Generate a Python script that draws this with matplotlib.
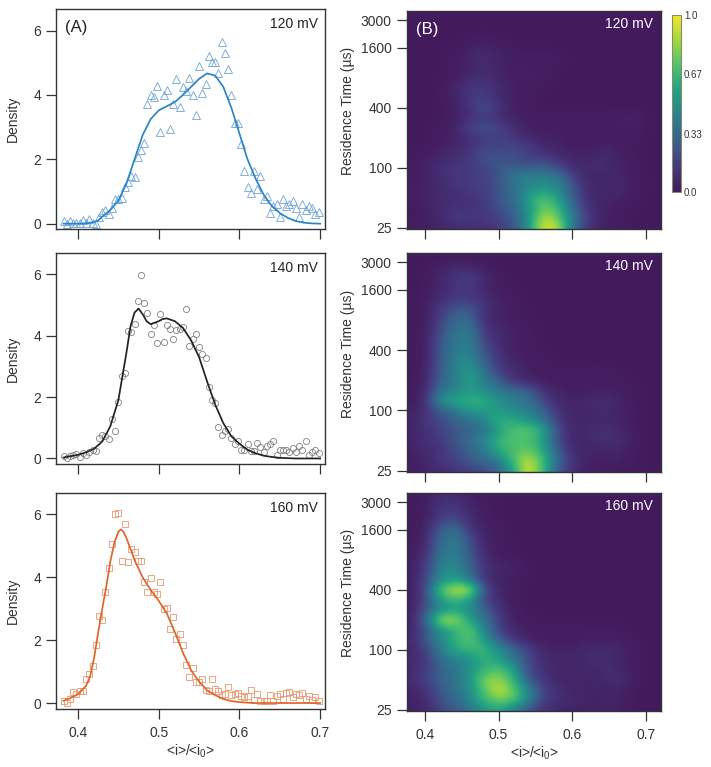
import matplotlib
matplotlib.use('Agg')
import matplotlib.pyplot as plt
import numpy as np
from matplotlib.colors import LinearSegmentedColormap

plt.rcParams['font.family'] = ['Liberation Sans', 'DejaVu Sans']
plt.rcParams['mathtext.default'] = 'regular'

W, H = 711, 767
DARK = '#333333'

# histogram bin centres, shared by the three left panels
bins = [0.382, 0.386, 0.390, 0.394, 0.398, 0.402, 0.406, 0.410, 0.414, 0.418,
        0.422, 0.426, 0.430, 0.434, 0.438, 0.442, 0.446, 0.450, 0.454, 0.458,
        0.462, 0.466, 0.470, 0.474, 0.478, 0.482, 0.486, 0.490, 0.494, 0.498,
        0.502, 0.506, 0.510, 0.514, 0.518, 0.522, 0.526, 0.530, 0.534, 0.538,
        0.542, 0.546, 0.550, 0.554, 0.558, 0.562, 0.566, 0.570, 0.574, 0.578,
        0.582, 0.586, 0.590, 0.594, 0.598, 0.602, 0.606, 0.610, 0.614, 0.618,
        0.622, 0.626, 0.630, 0.634, 0.638, 0.642, 0.646, 0.650, 0.654, 0.658,
        0.662, 0.666, 0.670, 0.674, 0.678, 0.682, 0.686, 0.690, 0.694, 0.698]

hist_120 = [0.07, 0.0, 0.08, 0.01, 0.03, 0.01, 0.13, 0.01, 0.14, 0.01,
            0.0, 0.22, 0.35, 0.42, 0.29, 0.48, 0.76, 0.77, 0.81, 1.15,
            1.30, 1.48, 1.44, 2.06, 2.29, 2.52, 3.73, 4.01, 3.93, 4.28,
            2.86, 4.01, 4.14, 2.93, 3.72, 4.48, 3.61, 4.26, 4.13, 4.54,
            4.01, 3.39, 4.89, 4.07, 4.35, 5.22, 5.02, 5.02, 4.69, 5.63,
            5.29, 4.81, 4.01, 3.12, 3.12, 2.49, 1.64, 1.15, 0.95, 1.63,
            1.08, 1.49, 0.76, 0.87, 0.34, 0.56, 0.62, 0.22, 0.76, 0.56,
            0.62, 0.69, 0.48, 0.22, 0.62, 0.42, 0.56, 0.48, 0.29, 0.35]
hist_140 = [0.08, 0.02, 0.07, 0.11, 0.14, 0.05, 0.18, 0.11, 0.20, 0.28,
            0.23, 0.68, 0.76, 0.73, 0.64, 1.29, 0.91, 1.83, 2.67, 2.79,
            4.16, 4.12, 4.39, 5.13, 5.97, 5.05, 4.74, 4.05, 4.36, 3.75,
            4.71, 3.78, 4.33, 4.20, 3.90, 4.17, 4.20, 4.29, 4.86, 3.66,
            3.90, 4.05, 3.63, 3.40, 3.28, 2.34, 1.92, 1.80, 1.03, 0.76,
            0.90, 0.96, 0.68, 0.48, 0.57, 0.29, 0.29, 0.46, 0.25, 0.25,
            0.52, 0.37, 0.22, 0.41, 0.46, 0.58, 0.11, 0.29, 0.29, 0.26,
            0.22, 0.35, 0.22, 0.41, 0.26, 0.57, 0.11, 0.22, 0.26, 0.18]
hist_160 = [0.07, 0.0, 0.12, 0.34, 0.29, 0.39, 0.39, 0.75, 0.92, 1.18,
            1.84, 2.76, 2.64, 3.52, 4.31, 5.07, 6.01, 6.03, 4.53, 5.69,
            4.47, 4.89, 4.79, 4.51, 4.51, 3.84, 3.52, 3.99, 3.52, 3.46,
            3.84, 2.98, 3.01, 2.35, 2.73, 2.05, 2.18, 1.86, 1.21, 0.83,
            1.10, 0.66, 0.66, 0.75, 0.42, 0.39, 0.77, 0.46, 0.39, 0.27,
            0.29, 0.51, 0.25, 0.29, 0.32, 0.22, 0.19, 0.22, 0.42, 0.11,
            0.29, 0.08, 0.08, 0.08, 0.25, 0.05, 0.22, 0.29, 0.14, 0.31,
            0.34, 0.19, 0.29, 0.25, 0.31, 0.14, 0.22, 0.11, 0.19, 0.08]

# fitted curves
fit_x_120 = [0.382, 0.39, 0.40, 0.41, 0.42, 0.425, 0.43, 0.44, 0.45, 0.46, 0.47, 0.48,
             0.49, 0.50, 0.51, 0.52, 0.53, 0.54, 0.55, 0.56, 0.57, 0.58, 0.59, 0.60,
             0.61, 0.62, 0.63, 0.64, 0.65, 0.66, 0.67, 0.68, 0.69, 0.70]
fit_y_120 = [0.0, 0.0, 0.0, 0.01, 0.05, 0.10, 0.22, 0.42, 0.72, 1.25, 2.0, 2.75,
             3.25, 3.52, 3.65, 3.78, 4.0, 4.25, 4.5, 4.67, 4.6, 4.25, 3.6, 2.8,
             2.0, 1.4, 0.9, 0.55, 0.33, 0.18, 0.08, 0.03, 0.01, 0.0]
fit_x_140 = [0.382, 0.39, 0.40, 0.41, 0.42, 0.43, 0.44, 0.45, 0.46, 0.465, 0.47, 0.475,
             0.48, 0.485, 0.49, 0.50, 0.505, 0.51, 0.52, 0.53, 0.54, 0.55, 0.56, 0.57,
             0.58, 0.59, 0.60, 0.61, 0.62, 0.63, 0.64, 0.65, 0.66, 0.67, 0.70]
fit_y_140 = [0.03, 0.07, 0.12, 0.20, 0.32, 0.55, 1.05, 1.9, 3.45, 4.3, 4.75, 4.88,
             4.7, 4.47, 4.37, 4.47, 4.54, 4.56, 4.47, 4.25, 3.85, 3.3, 2.5, 1.75,
             1.15, 0.72, 0.48, 0.28, 0.17, 0.09, 0.05, 0.02, 0.01, 0.0, 0.0]
fit_x_160 = [0.382, 0.39, 0.40, 0.41, 0.415, 0.42, 0.425, 0.43, 0.435, 0.44, 0.445, 0.45,
             0.453, 0.456, 0.46, 0.47, 0.48, 0.49, 0.50, 0.51, 0.52, 0.53, 0.54, 0.55,
             0.56, 0.57, 0.58, 0.59, 0.60, 0.61, 0.62, 0.70]
fit_y_160 = [0.07, 0.15, 0.28, 0.55, 0.85, 1.45, 2.25, 3.0, 3.7, 4.5, 5.1, 5.45,
             5.52, 5.46, 5.25, 4.55, 4.0, 3.6, 3.25, 2.85, 2.25, 1.6, 1.05, 0.68,
             0.4, 0.25, 0.13, 0.06, 0.03, 0.01, 0.0, 0.0]

# heat maps, percent of maximum; first row is 25 us, three rows per doubling
map_x = [0.38, 0.40, 0.42, 0.44, 0.46, 0.48, 0.50, 0.52, 0.54,
         0.56, 0.58, 0.60, 0.62, 0.64, 0.66, 0.68, 0.70, 0.72]
map_t = [25, 31.5, 39.7, 50, 63, 79.4, 100, 126, 159, 200, 252, 317,
         400, 504, 635, 800, 1008, 1270, 1600, 2016, 2540, 3200, 4032]
map_120 = [
    [2, 3, 5, 8, 9, 10, 14, 24, 52, 98, 92, 36, 10, 3, 2, 1, 1, 1],
    [1, 3, 6, 15, 15, 13, 18, 28, 48, 92, 76, 40, 16, 4, 2, 1, 1, 1],
    [1, 3, 9, 11, 11, 14, 24, 32, 52, 78, 68, 34, 11, 4, 2, 1, 1, 1],
    [3, 4, 8, 9, 11, 14, 25, 34, 56, 74, 54, 28, 7, 6, 5, 2, 1, 1],
    [3, 4, 7, 11, 15, 16, 25, 36, 46, 50, 48, 26, 7, 6, 7, 3, 1, 1],
    [1, 4, 9, 13, 15, 18, 24, 42, 46, 46, 42, 18, 5, 6, 6, 3, 1, 1],
    [2, 4, 10, 13, 14, 18, 26, 28, 28, 30, 22, 8, 8, 8, 5, 2, 1, 1],
    [1, 3, 6, 9, 14, 24, 24, 22, 16, 16, 10, 5, 5, 9, 5, 2, 1, 1],
    [1, 1, 3, 7, 11, 21, 19, 21, 16, 7, 4, 3, 2, 5, 3, 1, 1, 1],
    [1, 1, 2, 4, 9, 14, 16, 14, 7, 4, 4, 2, 2, 2, 2, 2, 1, 1],
    [1, 1, 2, 4, 20, 25, 21, 9, 3, 2, 2, 2, 2, 2, 3, 4, 1, 1],
    [1, 1, 1, 3, 9, 14, 9, 4, 2, 2, 2, 2, 2, 2, 3, 5, 1, 1],
    [1, 1, 1, 3, 11, 25, 11, 3, 2, 1, 1, 1, 1, 1, 1, 1, 1, 1],
    [1, 1, 1, 5, 14, 15, 9, 3, 2, 1, 1, 1, 1, 1, 1, 1, 1, 1],
    [1, 1, 1, 5, 13, 14, 8, 3, 2, 1, 1, 1, 1, 1, 1, 1, 1, 1],
    [1, 1, 1, 2, 7, 10, 5, 3, 4, 3, 1, 1, 1, 1, 1, 1, 1, 1],
    [1, 1, 1, 2, 5, 9, 4, 3, 3, 2, 1, 1, 1, 1, 1, 1, 1, 1],
    [1, 1, 1, 2, 5, 9, 4, 3, 3, 4, 2, 1, 1, 1, 1, 1, 1, 1],
    [1, 1, 1, 1, 3, 7, 3, 1, 1, 1, 1, 1, 1, 1, 1, 1, 1, 1],
    [1, 1, 1, 1, 1, 2, 1, 1, 1, 1, 1, 1, 1, 1, 1, 1, 1, 1],
    [1, 1, 1, 1, 1, 1, 1, 1, 1, 1, 1, 1, 1, 1, 1, 1, 1, 1],
    [1, 1, 1, 1, 1, 1, 1, 1, 1, 1, 1, 1, 1, 1, 1, 1, 1, 1],
    [1, 1, 1, 1, 1, 1, 1, 1, 1, 1, 1, 1, 1, 1, 1, 1, 1, 1],
]
map_140 = [
    [2, 5, 8, 11, 15, 20, 30, 58, 100, 66, 26, 8, 3, 2, 1, 1, 1, 1],
    [2, 6, 13, 18, 27, 34, 42, 70, 94, 68, 34, 12, 4, 3, 5, 2, 1, 1],
    [3, 7, 12, 20, 30, 40, 62, 70, 78, 60, 26, 7, 5, 5, 5, 1, 1, 1],
    [5, 10, 14, 25, 36, 46, 66, 72, 70, 56, 20, 6, 6, 10, 10, 3, 1, 1],
    [4, 10, 16, 25, 30, 38, 56, 72, 76, 60, 20, 5, 8, 10, 8, 2, 1, 1],
    [4, 14, 20, 30, 36, 44, 66, 60, 52, 40, 14, 5, 6, 7, 5, 1, 1, 1],
    [3, 10, 26, 40, 54, 56, 54, 48, 42, 30, 11, 5, 6, 8, 6, 2, 1, 1],
    [1, 8, 54, 60, 66, 62, 50, 42, 38, 18, 7, 5, 7, 10, 5, 1, 1, 1],
    [1, 5, 36, 44, 54, 48, 40, 34, 30, 11, 4, 2, 2, 3, 3, 2, 1, 1],
    [1, 4, 30, 42, 56, 44, 28, 10, 4, 2, 2, 2, 2, 3, 2, 1, 1, 1],
    [1, 3, 28, 42, 58, 36, 16, 9, 3, 2, 2, 2, 2, 3, 1, 1, 1, 1],
    [1, 2, 26, 44, 48, 30, 12, 5, 3, 2, 1, 1, 1, 1, 1, 1, 1, 1],
    [1, 2, 26, 42, 44, 26, 9, 4, 2, 1, 1, 1, 1, 1, 1, 1, 1, 1],
    [1, 2, 24, 40, 44, 18, 8, 3, 2, 1, 1, 1, 1, 1, 1, 1, 1, 1],
    [1, 2, 22, 38, 42, 14, 7, 5, 2, 1, 1, 1, 1, 1, 1, 1, 1, 1],
    [1, 2, 16, 34, 34, 9, 4, 2, 1, 1, 1, 1, 1, 1, 1, 1, 1, 1],
    [1, 2, 14, 26, 30, 11, 5, 3, 1, 1, 1, 1, 1, 1, 1, 1, 1, 1],
    [1, 2, 9, 16, 16, 11, 4, 2, 1, 1, 1, 1, 1, 1, 1, 1, 1, 1],
    [1, 1, 7, 11, 13, 6, 2, 1, 1, 1, 1, 1, 1, 1, 1, 1, 1, 1],
    [1, 1, 6, 13, 18, 9, 2, 1, 1, 1, 1, 1, 1, 1, 1, 1, 1, 1],
    [1, 1, 4, 9, 9, 3, 1, 1, 1, 1, 1, 1, 1, 1, 1, 1, 1, 1],
    [1, 1, 1, 3, 2, 1, 1, 1, 1, 1, 1, 1, 1, 1, 1, 1, 1, 1],
    [1, 1, 1, 1, 1, 1, 1, 1, 1, 1, 1, 1, 1, 1, 1, 1, 1, 1],
]
map_160 = [
    [3, 6, 18, 25, 36, 50, 60, 40, 24, 10, 6, 4, 3, 4, 4, 1, 1, 1],
    [4, 8, 22, 34, 46, 68, 78, 76, 44, 16, 10, 8, 4, 5, 5, 1, 1, 1],
    [5, 10, 26, 36, 48, 72, 96, 74, 46, 18, 8, 5, 5, 5, 5, 1, 1, 1],
    [8, 18, 30, 38, 50, 82, 84, 66, 26, 12, 6, 5, 5, 6, 12, 3, 1, 1],
    [8, 14, 30, 38, 50, 64, 74, 56, 20, 10, 5, 5, 6, 8, 7, 2, 1, 1],
    [6, 14, 34, 44, 48, 64, 56, 40, 20, 8, 6, 5, 8, 8, 6, 2, 1, 1],
    [6, 14, 42, 60, 66, 68, 50, 34, 18, 6, 4, 4, 8, 8, 7, 3, 1, 1],
    [6, 26, 46, 62, 76, 54, 30, 12, 4, 2, 2, 2, 3, 3, 3, 1, 1, 1],
    [3, 22, 50, 62, 78, 46, 18, 6, 2, 2, 2, 2, 2, 2, 2, 1, 1, 1],
    [4, 28, 88, 92, 54, 40, 16, 3, 2, 1, 1, 1, 1, 1, 1, 1, 1, 1],
    [2, 24, 46, 54, 50, 32, 12, 2, 1, 1, 1, 1, 1, 1, 1, 1, 1, 1],
    [2, 18, 56, 68, 54, 20, 7, 2, 1, 1, 1, 1, 1, 1, 1, 1, 1, 1],
    [2, 18, 72, 94, 96, 22, 6, 2, 1, 1, 1, 1, 1, 1, 1, 1, 1, 1],
    [2, 18, 48, 56, 42, 11, 4, 2, 1, 1, 1, 1, 1, 1, 1, 1, 1, 1],
    [2, 14, 46, 50, 34, 11, 6, 5, 1, 1, 1, 1, 1, 1, 1, 1, 1, 1],
    [2, 11, 42, 46, 31, 9, 3, 2, 1, 1, 1, 1, 1, 1, 1, 1, 1, 1],
    [1, 7, 35, 44, 26, 7, 2, 1, 1, 1, 1, 1, 1, 1, 1, 1, 1, 1],
    [1, 5, 33, 44, 24, 5, 2, 1, 1, 1, 1, 1, 1, 1, 1, 1, 1, 1],
    [1, 4, 30, 38, 13, 4, 2, 1, 1, 1, 1, 1, 1, 1, 1, 1, 1, 1],
    [1, 2, 15, 24, 9, 3, 1, 1, 1, 1, 1, 1, 1, 1, 1, 1, 1, 1],
    [1, 2, 13, 15, 7, 2, 1, 1, 1, 1, 1, 1, 1, 1, 1, 1, 1, 1],
    [1, 2, 10, 11, 4, 2, 1, 1, 1, 1, 1, 1, 1, 1, 1, 1, 1, 1],
    [1, 1, 6, 7, 2, 1, 1, 1, 1, 1, 1, 1, 1, 1, 1, 1, 1, 1],
]

voltages = ['120 mV', '140 mV', '160 mV']
hists = [hist_120, hist_140, hist_160]
fit_xs = [fit_x_120, fit_x_140, fit_x_160]
fit_ys = [fit_y_120, fit_y_140, fit_y_160]
maps = [map_120, map_140, map_160]
rt_ticks = [25, 100, 400, 1600, 3000]
cbar_ticks = [0.0, 0.33, 0.67, 1.0]
x_ticks = [0.4, 0.5, 0.6, 0.7]

markers = ['^', 'o', 's']
marker_sizes = [5.2, 4.4, 4.4]
point_colors = ['#6fa4d8', '#808080', '#e9976e']
line_colors = ['#2b84c6', '#222222', '#e0652c']

# pixel boxes (top, bottom) of each row, left and right columns
left_rows = [(9, 229), (253, 464), (493, 709)]
right_rows = [(11, 229), (253, 472), (493, 711)]
left_rows_y = [(-0.165, 6.67), (-0.18, 6.69), (-0.19, 6.68)]

cmap = LinearSegmentedColormap.from_list(
    'print_viridis',
    ['#431a5c', '#46397f', '#3a5f8c', '#2a7f8e', '#22a184', '#4cc06e', '#a0d840', '#f5e62a'])


def add_axes(left, right, top, bottom):
    return fig.add_axes([left / W, 1 - bottom / H, (right - left) / W, (bottom - top) / H])


def style(ax):
    for sp in ax.spines.values():
        sp.set_linewidth(1.0)
        sp.set_color(DARK)
    ax.tick_params(length=7.2, width=0.9, color=DARK, labelcolor=DARK, labelsize=10, pad=3.5)
    ax.tick_params(axis='x', pad=5)


fig = plt.figure(figsize=(W / 100, H / 100), dpi=100)

for i in range(3):
    ax = add_axes(56, 325, *left_rows[i])
    ax.plot(bins, hists[i], ls='none', marker=markers[i], ms=marker_sizes[i], mfc='none',
            mec=point_colors[i], mew=0.6)
    ax.plot(fit_xs[i], fit_ys[i], color=line_colors[i], lw=1.25)
    ax.set_xlim(0.3727, 0.706)
    ax.set_ylim(*left_rows_y[i])
    ax.set_xticks(x_ticks)
    ax.set_yticks([0, 2, 4, 6])
    style(ax)
    ax.set_ylabel('Density', color=DARK, fontsize=10)
    ax.yaxis.set_label_coords(-0.135, 0.5)
    ax.text(0.975, 0.962, voltages[i], transform=ax.transAxes, ha='right', va='top',
            fontsize=10, color='#222222')
    if i == 2:
        ax.set_xlabel('<i>/<i$_{0}$>', color=DARK, fontsize=10, labelpad=2)
    else:
        ax.set_xticklabels([])
    if i == 0:
        ax.text(0.035, 0.95, '(A)', transform=ax.transAxes, ha='left', va='top',
                fontsize=12, color='#222222')

log_t = np.log10(map_t)
half_x = (map_x[1] - map_x[0]) / 2
half_t = (log_t[1] - log_t[0]) / 2
for i in range(3):
    ax = add_axes(406.7, 661, *right_rows[i])
    im = ax.imshow(np.array(maps[i]) / 100, origin='lower', aspect='auto', cmap=cmap,
                   vmin=0, vmax=1, interpolation='bicubic',
                   extent=[map_x[0] - half_x, map_x[-1] + half_x,
                           log_t[0] - half_t, log_t[-1] + half_t])
    ax.set_xlim(0.3757, 0.72)
    ax.set_ylim(np.log10(24.2), np.log10(3729))
    ax.set_xticks(x_ticks)
    ax.set_yticks(np.log10(rt_ticks))
    ax.set_yticklabels([str(t) for t in rt_ticks])
    style(ax)
    ax.set_ylabel('Residence Time (µs)', color=DARK, fontsize=10)
    ax.yaxis.set_label_coords(-0.203, 0.54)
    ax.text(0.97, 0.972, voltages[i], transform=ax.transAxes, ha='right', va='top',
            fontsize=10, color='white')
    if i == 2:
        ax.set_xlabel('<i>/<i$_{0}$>', color=DARK, fontsize=10, labelpad=2)
    else:
        ax.set_xticklabels([])
    if i == 0:
        ax.text(0.035, 0.95, '(B)', transform=ax.transAxes, ha='left', va='top',
                fontsize=12, color='white')
        cax = add_axes(672, 681.3, 15.3, 192)
        cb = fig.colorbar(im, cax=cax)
        cb.set_ticks(cbar_ticks, labels=['0.0', '0.33', '0.67', '1.0'])
        cb.ax.tick_params(length=0, labelsize=7, pad=2, labelcolor=DARK)
        cb.outline.set_edgecolor('#8a8a6a')
        cb.outline.set_linewidth(0.8)

fig.savefig('out.png', dpi=100)
